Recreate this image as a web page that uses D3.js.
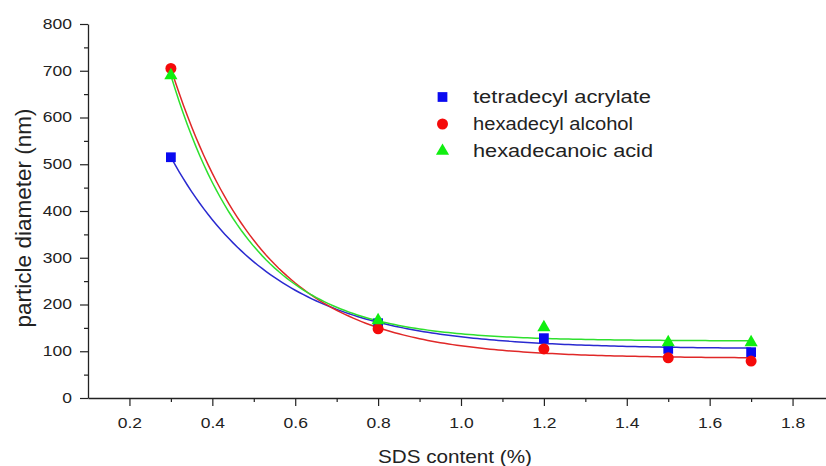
<!DOCTYPE html>
<html>
<head>
<meta charset="utf-8">
<script src="https://cdn.jsdelivr.net/npm/d3@7"></script>
<style>
  html, body { margin: 0; padding: 0; background: #fff; }
  svg { display: block; font-family: Arial, "Liberation Sans", sans-serif; }
</style>
</head>
<body>
<svg id="chart" width="826" height="466"></svg>
<script>
// SDS content (%) at which particle size was measured
const sdsContent = [0.3, 0.8, 1.2, 1.5, 1.7];

// particle diameter (nm) per co-stabilizer
const tetradecylAcrylate = [515, 160, 128, 105, 98];
const hexadecylAlcohol   = [705, 148, 105, 86, 79];
const hexadecanoicAcid   = [690, 166, 151, 119, 119];

// exponential decay fits y = y0 + A * exp(-(x - 0.3) / t)
const fitY0 = [105, 85, 122];
const fitA  = [410, 620, 568];
const fitT  = [0.2534, 0.2225, 0.1938];

const seriesNames = ["tetradecyl acrylate", "hexadecyl alcohol", "hexadecanoic acid"];
const legendWidths = [178, 160, 180];
const seriesColors = ["#0a0af0", "#f50a0a", "#10ee10"];
const lineColors = ["#2a2ad0", "#e02828", "#2ee02e"];
const seriesShapes = [d3.symbolSquare, d3.symbolCircle, d3.symbolTriangle];
const symbolSizes = [95, 95, 75];

const xTicks = [0.2, 0.4, 0.6, 0.8, 1.0, 1.2, 1.4, 1.6, 1.8];
const yTicks = [0, 100, 200, 300, 400, 500, 600, 700, 800];

const svg = d3.select("#chart");
const x = d3.scaleLinear().domain([0.1, 1.9]).range([88, 834]);
const y = d3.scaleLinear().domain([0, 800]).range([398, 24]);

// minor ticks
const yMinor = d3.range(50, 800, 100);
const xMinor = [0.3, 0.5, 0.7, 0.9, 1.1, 1.3, 1.5, 1.7];
const labelStretch = 1.13;

const gy = svg.append("g").attr("transform", "translate(88,0)");
gy.call(d3.axisLeft(y).tickValues(yTicks).tickSize(8).tickSizeOuter(0).tickFormat(d3.format("d")));
gy.append("g").call(d3.axisLeft(y).tickValues(yMinor).tickSize(4).tickFormat(""))
  .select(".domain").remove();

const gx = svg.append("g").attr("transform", "translate(0,398)");
gx.call(d3.axisBottom(x).tickValues(xTicks).tickSize(8).tickSizeOuter(0).tickFormat(d3.format(".1f")));
gx.append("g").call(d3.axisBottom(x).tickValues(xMinor).tickSize(4).tickFormat(""))
  .select(".domain").remove();

svg.selectAll(".domain").attr("stroke", "#222").attr("stroke-width", 1.3);
svg.selectAll(".tick line").attr("stroke", "#222").attr("stroke-width", 1.2);
gy.selectAll(".tick text")
  .attr("font-size", 15.5).attr("fill", "#222")
  .attr("x", -16 / labelStretch).attr("dy", "0.28em")
  .attr("transform", `scale(${labelStretch},1)`);
gx.selectAll(".tick text")
  .attr("font-size", 15.5).attr("fill", "#222")
  .attr("y", 9).attr("dy", "1.35em")
  .attr("transform", `scale(${labelStretch},1)`);

// axis titles
svg.append("text")
  .attr("transform", "translate(30.5,218) rotate(-90)")
  .attr("text-anchor", "middle").attr("font-size", 22.5).attr("fill", "#222")
  .text("particle diameter (nm)");
svg.append("text")
  .attr("x", 455).attr("y", 463)
  .attr("text-anchor", "middle").attr("font-size", 19).attr("fill", "#222")
  .attr("textLength", 154).attr("lengthAdjust", "spacingAndGlyphs")
  .text("SDS content (%)");

const allValues = [tetradecylAcrylate, hexadecylAlcohol, hexadecanoicAcid];

// fitted curves
const xs = d3.range(0.3, 1.7001, 0.01);
const line = d3.line().x(d => x(d[0])).y(d => y(d[1]));
allValues.forEach((vals, i) => {
  const pts = xs.map(v => [v, fitY0[i] + fitA[i] * Math.exp(-(v - 0.3) / fitT[i])]);
  svg.append("path").datum(pts)
    .attr("d", line).attr("fill", "none")
    .attr("stroke", lineColors[i]).attr("stroke-width", 1.5);
});

// markers
allValues.forEach((vals, i) => {
  svg.append("g").selectAll("path")
    .data(vals.map((v, j) => [sdsContent[j], v]))
    .join("path")
    .attr("transform", d => `translate(${x(d[0])},${y(d[1])})`)
    .attr("d", d3.symbol().type(seriesShapes[i]).size(symbolSizes[i]))
    .attr("fill", seriesColors[i]);
});

// legend
const legend = svg.append("g");
seriesNames.forEach((name, i) => {
  const ly = 97 + i * 27;
  legend.append("path")
    .attr("transform", `translate(442.5,${ly})`)
    .attr("d", d3.symbol().type(seriesShapes[i]).size(symbolSizes[i]))
    .attr("fill", seriesColors[i]);
  legend.append("text")
    .attr("x", 473).attr("y", ly + 6)
    .attr("font-size", 17.5).attr("fill", "#222")
    .attr("textLength", legendWidths[i]).attr("lengthAdjust", "spacingAndGlyphs")
    .text(name);
});
</script>
</body>
</html>
